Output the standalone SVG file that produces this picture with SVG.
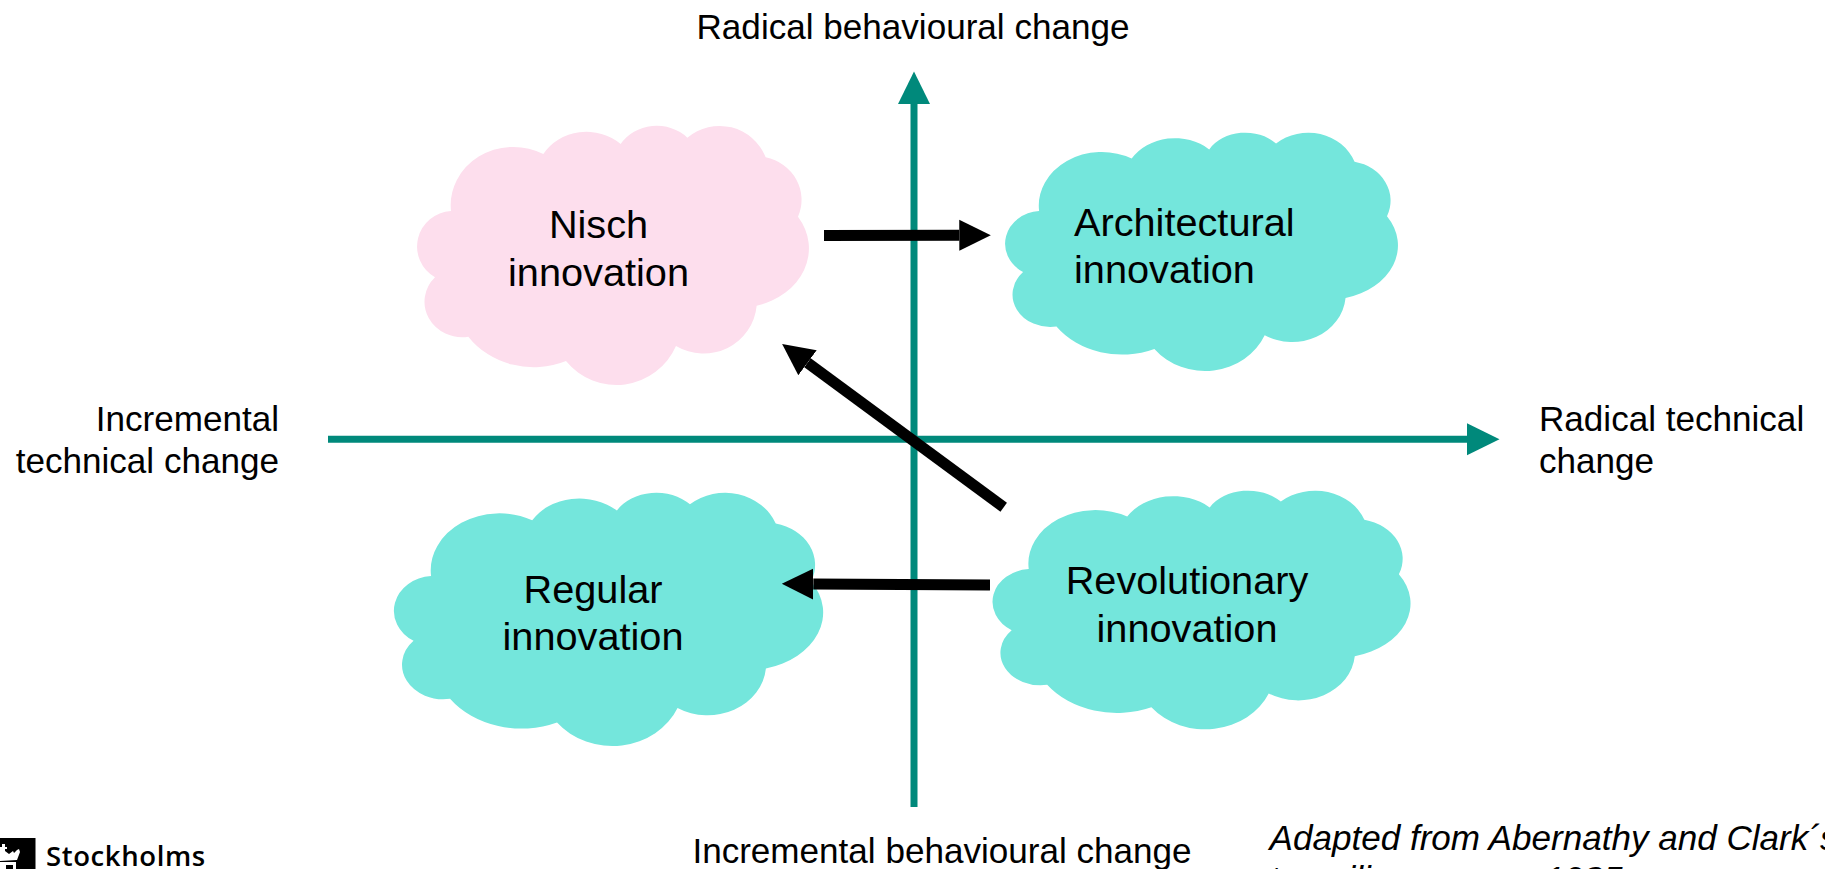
<svg xmlns="http://www.w3.org/2000/svg" width="1825" height="869" viewBox="0 0 1825 869">
<style>
text{font-family:"Liberation Sans",Arial,sans-serif;fill:#000}
.n{font-size:39.7px;text-anchor:middle}
.s{font-size:39.7px}
.l{font-size:35.1px}
.i{font-style:italic}
.pink{fill:#fddeed}
.teal{fill:#74e6dc}
.axis{stroke:#00897b;stroke-width:7;fill:none}
.flow{stroke:#000;stroke-width:11;fill:none}
</style>
<defs>
<path id="cloud" d="M213 333A188 175 0 0 1 490 162A150 135 0 0 1 722 132A125 110 0 0 1 922 113A149 149 0 0 1 1157 172A135 130 0 0 1 1254 350A212 178 0 0 1 1130 617A160 158 0 0 1 888 738A195 195 0 0 1 558 783A240 217 0 0 1 265 710A113 106 0 0 1 165 532A109 107 0 0 1 213 333Z"/>
<marker id="ha" viewBox="0 -17 33 34" refX="0" refY="0" markerUnits="userSpaceOnUse" markerWidth="33" markerHeight="34" orient="auto"><path d="M0 -16L32.5 0L0 16Z" fill="#00897b"/></marker>
<marker id="hb" viewBox="0 -17 33 34" refX="0" refY="0" markerUnits="userSpaceOnUse" markerWidth="33" markerHeight="34" orient="auto"><path d="M0 -15.5L31.5 0L0 15.5Z" fill="#000"/></marker>
</defs>
<g id="nisch">
<use href="#cloud" class="pink" transform="translate(380 100) scale(.33333)"/>
<text class="n" x="598.5" y="238.3">Nisch</text>
<text class="n" x="598.5" y="285.7">innovation</text>
</g>
<g id="architectural">
<use href="#cloud" class="teal" transform="translate(967.91 108.93) scale(.3342 .30651)"/>
<text class="s" x="1074" y="236">Architectural</text>
<text class="s" x="1074" y="283.3">innovation</text>
</g>
<g id="regular">
<use href="#cloud" class="teal" transform="translate(353.29 467.55) scale(.36515 .32567)"/>
<text class="n" x="593" y="602.7">Regular</text>
<text class="n" x="593" y="650">innovation</text>
</g>
<g id="revolutionary">
<use href="#cloud" class="teal" transform="translate(952.98 466.9) scale(.35557 .30694)"/>
<text class="n" x="1187" y="594">Revolutionary</text>
<text class="n" x="1187" y="641.7">innovation</text>
</g>
<g id="connectors">
<line class="axis" x1="914" y1="807" x2="914" y2="104" marker-end="url(#ha)"/>
<line class="axis" x1="328" y1="439.3" x2="1467" y2="439.3" marker-end="url(#ha)"/>
<line class="flow" x1="824" y1="235.5" x2="959.3" y2="235.2" marker-end="url(#hb)"/>
<line class="flow" x1="1003.7" y1="507.3" x2="807.5" y2="362.8" marker-end="url(#hb)"/>
<line class="flow" x1="990" y1="585" x2="813.3" y2="584" marker-end="url(#hb)"/>
</g>
<g id="axis-labels">
<text class="l" x="913" y="39" text-anchor="middle">Radical behavioural change</text>
<text class="l" x="942" y="862.5" text-anchor="middle">Incremental behavioural change</text>
<text class="l" x="279" y="431" text-anchor="end">Incremental</text>
<text class="l" x="279" y="472.7" text-anchor="end">technical change</text>
<text class="l" x="1539" y="431">Radical technical</text>
<text class="l" x="1539" y="473">change</text>
</g>
<g id="source">
<text class="l i" x="1269.5" y="850">Adapted from Abernathy and Clark´s</text>
<text class="l i" x="1269.5" y="890.5">transilience map, 1985</text>
</g>
<g id="logo">
<path d="M0 838H35.500V869H0Z" fill="#000"/>
<path d="M0 847H2V844H5V847H7V849H5V851L9 854L13 851L14 853L17 850L19 849L20 852L17 860L0 861Z" fill="#fff"/>
<path d="M0 862H16V869H0Z" fill="#fff"/>
<path d="M6 865H13V869H6Z" fill="#000"/>
<text x="46" y="865.700" style="font-family:'Open Sans',sans-serif;font-weight:600;font-size:27.500px;letter-spacing:.6px">Stockholms</text>
</g>
</svg>
